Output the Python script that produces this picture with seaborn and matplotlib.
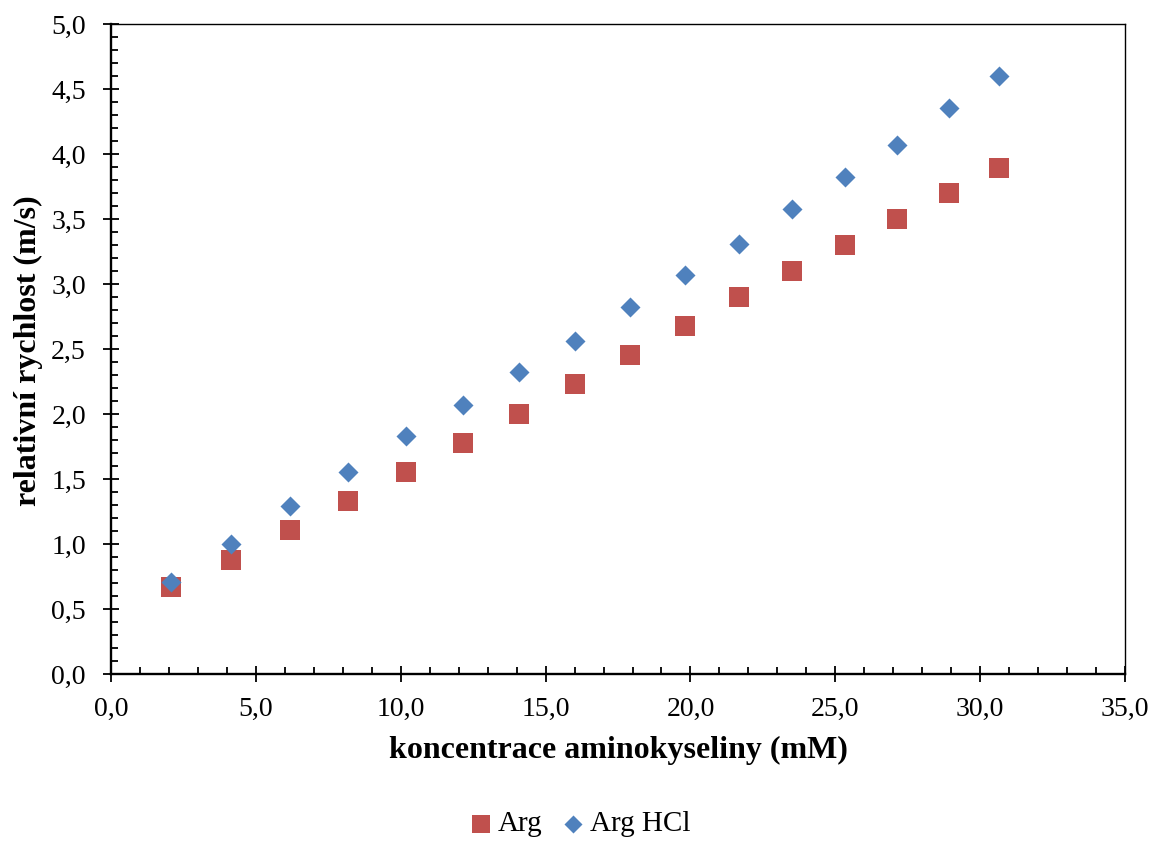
import matplotlib
matplotlib.use("Agg")
import matplotlib.pyplot as plt
from matplotlib.ticker import MultipleLocator, FuncFormatter
import pandas as pd
import seaborn as sns

# Concentration of amino acid (mM)
concentration = [2.07, 4.14, 6.18, 8.18, 10.18, 12.15, 14.08, 16.02,
                 17.92, 19.82, 21.68, 23.51, 25.34, 27.13, 28.93, 30.65]
# Relative velocity (m/s)
arg_speed = [0.67, 0.88, 1.11, 1.33, 1.55, 1.78, 2.00, 2.23,
             2.45, 2.68, 2.90, 3.10, 3.30, 3.50, 3.70, 3.89]
arg_hcl_speed = [0.71, 1.00, 1.29, 1.55, 1.83, 2.07, 2.32, 2.56,
                 2.82, 3.07, 3.31, 3.58, 3.82, 4.07, 4.35, 4.60]

series_names = ["Arg", "Arg HCl"]
series_colors = {"Arg": "#C0504D", "Arg HCl": "#4F81BD"}

df = pd.concat([
    pd.DataFrame({"c": concentration, "v": arg_speed, "serie": series_names[0]}),
    pd.DataFrame({"c": concentration, "v": arg_hcl_speed, "serie": series_names[1]}),
], ignore_index=True)

sns.set_style("white")
plt.rcParams["font.family"] = ["Liberation Serif", "DejaVu Serif"]
plt.rcParams["text.color"] = "black"
plt.rcParams["axes.labelcolor"] = "black"
plt.rcParams["xtick.color"] = "black"
plt.rcParams["ytick.color"] = "black"

fig = plt.figure(figsize=(11.54, 8.41), dpi=100)
ax = fig.add_axes([0.0962, 0.1986, 0.8787, 0.7729])

sns.scatterplot(data=df[df.serie == "Arg"], x="c", y="v", marker="s", s=207,
                color=series_colors["Arg"], linewidth=0, ax=ax, label="Arg",
                zorder=3, clip_on=False)
sns.scatterplot(data=df[df.serie == "Arg HCl"], x="c", y="v", marker="D", s=104,
                color=series_colors["Arg HCl"], linewidth=0, ax=ax, label="Arg HCl",
                zorder=4, clip_on=False)

ax.set_xlim(0, 35)
ax.set_ylim(0, 5)
ax.xaxis.set_major_locator(MultipleLocator(5))
ax.xaxis.set_minor_locator(MultipleLocator(1))
ax.yaxis.set_major_locator(MultipleLocator(0.5))
ax.yaxis.set_minor_locator(MultipleLocator(0.1))
comma = FuncFormatter(lambda v, p: f"{v:.1f}".replace(".", ","))
ax.xaxis.set_major_formatter(comma)
ax.yaxis.set_major_formatter(comma)

ax.tick_params(which="major", direction="inout", length=11.5, width=1.3,
               labelsize=20, colors="black", top=False, right=False,
               bottom=True, left=True)
ax.tick_params(axis="x", which="major", pad=11.0)
ax.tick_params(axis="y", which="major", pad=12.3)
ax.tick_params(which="minor", direction="in", length=4.8, width=1.3,
               colors="black", top=False, right=False, bottom=True, left=True)

for side in ["left", "bottom"]:
    ax.spines[side].set_linewidth(1.7)
    ax.spines[side].set_color("black")
for side in ["top", "right"]:
    ax.spines[side].set_linewidth(1.0)
    ax.spines[side].set_color("black")

ax.set_xlabel("koncentrace aminokyseliny (mM)", fontsize=23, fontweight="bold")
ax.set_ylabel("relativní rychlost (m/s)", fontsize=23, fontweight="bold")
ax.xaxis.set_label_coords(0.5, -0.118)
ax.xaxis.label.set_verticalalignment("center")
ax.yaxis.set_label_coords(-0.081, 0.498)
ax.yaxis.label.set_verticalalignment("center")

ax.get_legend().remove()
handles, labels = ax.get_legend_handles_labels()
fig.legend(handles, labels, loc="center", bbox_to_anchor=(581 / 1154, 1 - 824 / 841),
           ncol=2, frameon=False, fontsize=21, handlelength=0.65,
           handletextpad=0.25, columnspacing=0.75, markerscale=0.9,
           borderaxespad=0, borderpad=0)

fig.savefig("out.png", dpi=100)
